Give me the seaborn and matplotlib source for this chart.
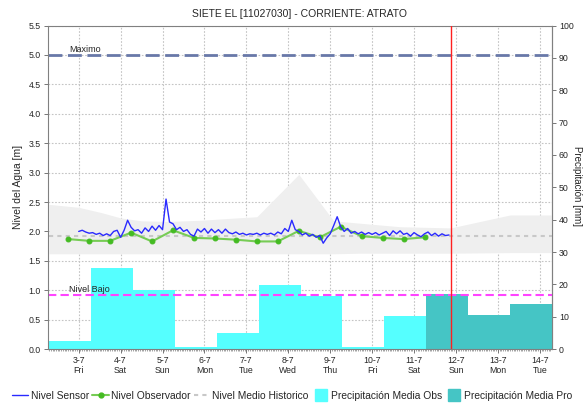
import numpy as np
import matplotlib
matplotlib.use("Agg")
import matplotlib.pyplot as plt
import seaborn as sns
from matplotlib.lines import Line2D

# horas contadas desde el 2-7 a las 07:00
horas_sensor = np.arange(17, 230, 2)
nivel_sensor = [2.00, 2.02, 1.99, 1.97, 1.98, 1.95, 1.97, 1.93, 1.96, 1.93,
                2.00, 2.02, 1.90, 2.02, 2.19, 2.07, 2.01, 2.03, 1.97, 2.06,
                2.00, 2.09, 2.02, 2.10, 2.03, 2.55, 2.16, 2.13, 2.03, 2.07,
                2.00, 2.03, 1.95, 1.92, 2.04, 1.99, 2.05, 1.97, 2.04, 1.98,
                2.03, 1.97, 2.04, 1.98, 1.96, 1.99, 1.95, 1.97, 1.94, 1.96,
                1.95, 1.97, 1.94, 1.97, 1.95, 1.97, 1.94, 1.99, 1.96, 2.05,
                2.00, 2.19, 2.03, 2.00, 1.94, 1.97, 1.92, 1.95, 1.90, 1.93,
                1.80, 1.89, 1.96, 2.10, 2.25, 2.08, 2.00, 2.05, 1.97, 2.00,
                1.96, 1.99, 1.95, 1.98, 1.95, 1.98, 1.94, 1.97, 2.00, 1.93,
                2.01, 1.96, 2.01, 1.95, 1.97, 1.92, 1.98, 1.94, 1.91, 1.96,
                1.99, 1.93, 1.97, 1.92, 1.96, 1.93, 1.94]

horas_obs = np.arange(11, 216, 12)
nivel_obs = [1.87, 1.84, 1.84, 1.98, 1.83, 2.02, 1.89, 1.88, 1.86, 1.83,
             1.83, 2.01, 1.90, 2.08, 1.92, 1.89, 1.87, 1.90]

horas_hist = [0, 17, 30, 41, 53, 68, 87, 102, 119, 143, 163, 178, 201, 230, 264, 288]
hist_max = [2.46, 2.41, 2.32, 2.23, 2.18, 2.17, 2.19, 2.22, 2.25, 2.97, 2.18, 2.14, 2.08, 2.06, 2.28, 2.28]
hist_min = [1.62, 1.62, 1.62, 1.62, 1.62, 1.62, 1.62, 1.62, 1.62, 1.62, 1.62, 1.63, 1.63, 1.63, 1.64, 1.64]
hist_medio = [1.92, 1.92, 1.92, 1.92, 1.92, 1.92, 1.92, 1.92, 1.92, 1.92, 1.92, 1.92, 1.92, 1.92, 1.92, 1.92]

# precipitacion diaria (07:00 - 07:00) en mm
bordes_obs = [-24, 0, 24, 48, 72, 96, 120, 144, 168, 192, 216]
lluvia_obs = [34.0, 2.5, 25.1, 18.2, 0.7, 5.0, 19.8, 16.5, 0.7, 10.2]
bordes_pro = [216, 240, 264, 288]
lluvia_pro = [16.9, 10.5, 13.9]

horas_ticks = [17, 41, 65, 89, 113, 137, 161, 185, 209, 233, 257, 281]
etiquetas_x = ["3-7\nFri", "4-7\nSat", "5-7\nSun", "6-7\nMon", "7-7\nTue", "8-7\nWed",
               "9-7\nThu", "10-7\nFri", "11-7\nSat", "12-7\nSun", "13-7\nMon", "14-7\nTue"]

nivel_maximo = 5.0
nivel_bajo = 0.92
hora_actual = 230.3
MM_A_M = 5.5 / 100.0

sns.set_style("white")
plt.rcParams['font.family'] = ['Liberation Sans', 'DejaVu Sans']

fig, ax = plt.subplots(figsize=(5.85, 4.05), dpi=100)
fig.subplots_adjust(left=0.082, right=0.9436, bottom=0.138, top=0.937)

ax.set_axisbelow(True)
ax.grid(True, color='#c4c4c4', linestyle=(0, (1.5, 1.5)), linewidth=0.8)

ax.fill_between(horas_hist, hist_min, hist_max, color='#efefef', linewidth=0, zorder=1)

centros_obs = [(bordes_obs[i] + bordes_obs[i + 1]) / 2 for i in range(len(lluvia_obs))]
centros_pro = [(bordes_pro[i] + bordes_pro[i + 1]) / 2 for i in range(len(lluvia_pro))]
sns.histplot(x=centros_obs, weights=np.array(lluvia_obs) * MM_A_M, bins=bordes_obs,
             color='#55ffff', alpha=1, linewidth=0, ax=ax, zorder=1.2)
sns.histplot(x=centros_pro, weights=np.array(lluvia_pro) * MM_A_M, bins=bordes_pro,
             color='#45c5c5', alpha=1, linewidth=0, ax=ax, zorder=1.2)

ax.plot(horas_hist, hist_medio, color='#c8c8c8', linestyle=(0, (2, 2)), linewidth=1.5, zorder=1.5)

ax.axhline(nivel_maximo, color='#6878a8', linestyle=(0, (5, 2)), linewidth=2, zorder=1.6)
ax.axhline(nivel_bajo, color='#ff44ff', linestyle=(0, (4, 2)), linewidth=1.5, zorder=1.6)
ax.text(11.5, nivel_maximo + 0.02, "Maximo", fontsize=6.5, va='bottom')
ax.text(11.5, nivel_bajo + 0.02, "Nivel Bajo", fontsize=6.5, va='bottom')

sns.lineplot(x=horas_sensor, y=nivel_sensor, color='#2a2aff', linewidth=1, ax=ax, zorder=3)
sns.lineplot(x=horas_obs, y=nivel_obs, color='#77cc55', linewidth=1.5, marker='o',
             markersize=3.5, markerfacecolor='#44bb22', markeredgecolor='#44bb22', ax=ax, zorder=2.5)

ax.axvline(hora_actual, color='#ff2020', linewidth=1, zorder=4)

ax.set_xlim(-0.6, 288)
ax.set_ylim(0, 5.5)
ax.set_yticks(np.arange(0, 5.51, 0.5))
ax.set_yticklabels([f"{v:.1f}" for v in np.arange(0, 5.51, 0.5)])
ax.set_xticks(horas_ticks)
ax.set_xticklabels(etiquetas_x)
ax.set_xticks(np.arange(0, 288, 1), minor=True)
ax.tick_params(axis='both', which='major', labelsize=6.3, length=3, width=0.6, color='#606060', pad=2)
ax.tick_params(axis='x', which='minor', length=1.5, width=0.4, color='#606060', bottom=True)
ax.tick_params(left=True, bottom=True)
ax.set_xlabel("")
ax.set_ylabel("Nivel del Agua [m]", fontsize=7.5, labelpad=4)

sec = ax.secondary_yaxis('right', functions=(lambda m: m / MM_A_M, lambda mm: mm * MM_A_M))
sec.set_yticks(np.arange(0, 101, 10))
sec.tick_params(labelsize=6.3, length=3, width=0.6, color='#606060', pad=2)
sec.spines['right'].set_color('#808080')
sec.spines['right'].set_linewidth(0.8)
fig.text(0.986, 0.54, "Precipitación [mm]", fontsize=7, rotation=-90, ha='center', va='center')

for s in ax.spines.values():
    s.set_color('#808080')
    s.set_linewidth(0.8)

ax.set_title("SIETE EL [11027030] - CORRIENTE: ATRATO", fontsize=7.5, pad=6)

handles = [
    Line2D([], [], color='#2a2aff', linewidth=1),
    Line2D([], [], color='#77cc55', linewidth=1.5, marker='o', markersize=3.5,
           markerfacecolor='#44bb22', markeredgecolor='#44bb22'),
    Line2D([], [], color='#c8c8c8', linestyle=(0, (2, 2)), linewidth=1.5),
    Line2D([], [], color='#55ffff', linestyle='none', marker='s', markersize=8),
    Line2D([], [], color='#45c5c5', linestyle='none', marker='s', markersize=8),
]
labels = ["Nivel Sensor", "Nivel Observador", "Nivel Medio Historico",
          "Precipitación Media Obs", "Precipitación Media Pro"]
fig.legend(handles, labels, loc='lower left', bbox_to_anchor=(0.01, -0.005), ncol=5,
           frameon=False, fontsize=7.4, handlelength=1.6, handletextpad=0.2,
           columnspacing=0.35, borderaxespad=0.2)

fig.savefig("out.png", dpi=100)
